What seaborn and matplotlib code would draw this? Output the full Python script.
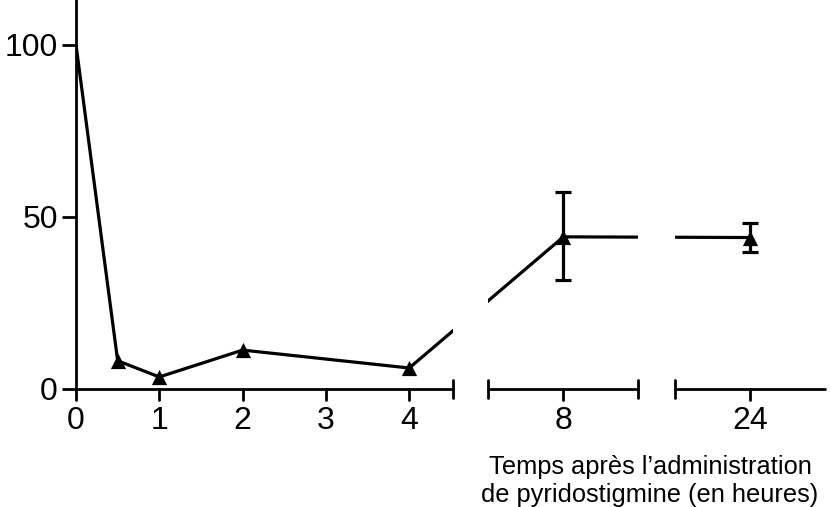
import numpy as np
import pandas as pd
import matplotlib
matplotlib.use("Agg")
import matplotlib.pyplot as plt
import seaborn as sns

# data
hours = [0, 0.5, 1, 2, 4, 8, 24]
values = [100, 8.2, 3.5, 11.3, 6.1, 44.2, 44.0]
err_hours = [8, 24]
err_lo = [31.8, 39.8]
err_hi = [57.3, 48.2]
xticks = [0, 1, 2, 3, 4, 8, 24]
yticks = [0, 50, 100]
xlabel = "Temps après l’administration\nde pyridostigmine (en heures)"

# broken x axis: piecewise linear scale (hours -> display units)
segments = [(0, 4.52), (7.1, 8.9), (23.1, 24.9)]
brk_x = [-1, 0, 4.52, 7.1, 8.9, 23.1, 24.9, 30]
brk_t = [-1, 0, 4.52, 4.95, 6.75, 7.19, 8.99, 14.09]


def fwd(x):
    return np.interp(x, brk_x, brk_t)


def inv(t):
    return np.interp(t, brk_t, brk_x)


sns.set_theme(style="ticks")
plt.rcParams["font.family"] = ["Liberation Sans", "DejaVu Sans"]
for key in ("text.color", "axes.labelcolor", "xtick.color", "ytick.color"):
    plt.rcParams[key] = "black"

fig = plt.figure(figsize=(8.31, 5.07), dpi=100)
ax = fig.add_axes([76 / 831, 118 / 507, (825 - 76) / 831, 389 / 507])
ax.set_xscale("function", functions=(fwd, inv))
ax.set_xlim(0, 24.9)
ax.set_ylim(0, 113)

df = pd.DataFrame({"h": hours, "v": values})
sns.lineplot(data=df, x="h", y="v", color="black", linewidth=2.3, ax=ax,
             zorder=2, clip_on=True)
sns.scatterplot(data=df[df["h"] > 0], x="h", y="v", marker="^", s=120,
                color="black", edgecolor="black", linewidth=0, ax=ax, zorder=4)
mid = [values[hours.index(h)] for h in err_hours]
yerr = [np.subtract(mid, err_lo), np.subtract(err_hi, mid)]
ax.errorbar(err_hours, mid, yerr=yerr, fmt="none", ecolor="black",
            elinewidth=2.3, capsize=6, capthick=2.3, zorder=3)

# gaps in the axis hide the line too
for (a0, a1), (b0, b1) in zip(segments[:-1], segments[1:]):
    ax.axvspan(a1, b0, color="white", zorder=3.5, lw=0)

# bottom axis drawn as three separate pieces with end bars
ax.spines["bottom"].set_visible(False)
ax.spines["top"].set_visible(False)
ax.spines["right"].set_visible(False)
ax.spines["left"].set_linewidth(2.0)
ax.spines["left"].set_color("black")
for i, (s0, s1) in enumerate(segments):
    ax.plot([s0, s1], [0, 0], color="black", lw=2.0, clip_on=False, zorder=5)
    ends = [s1] if i == 0 else ([s0] if i == 2 else [s0, s1])
    for e in ends:
        ax.plot([e, e], [-2.6, 2.6], color="black", lw=2.0, clip_on=False, zorder=5)
for t in xticks:
    ax.plot([t, t], [0, -3.3], color="black", lw=2.0, clip_on=False, zorder=5)

ax.set_xticks(xticks)
ax.set_xticklabels([str(t) for t in xticks])
ax.tick_params(axis="x", length=0, pad=12, labelsize=23, labelcolor="black")
ax.set_yticks(yticks)
ax.tick_params(axis="y", length=10, width=2.0, pad=3, labelsize=23,
               color="black", labelcolor="black")
ax.set_xlabel("")
ax.set_ylabel("")

fig.text(650 / 831, 1 - 481 / 507, xlabel, ha="center", va="center",
         fontsize=18.3, linespacing=1.2, color="black")

fig.savefig("out.png", dpi=100)
